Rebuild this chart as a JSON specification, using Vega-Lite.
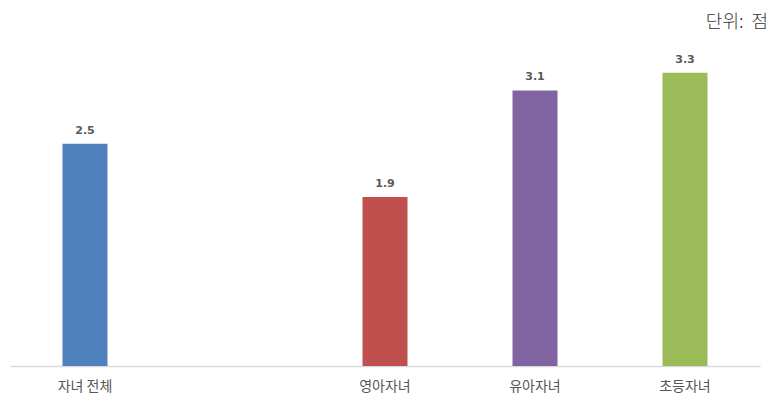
{
  "$schema": "https://vega.github.io/schema/vega-lite/v6.json",
  "width": 750,
  "height": 320,
  "autosize": {"type": "none"},
  "padding": {"left": 10, "top": 46, "right": 12, "bottom": 37},
  "background": "white",
  "title": {
    "text": "단위:\u00a0\u00a0점",
    "anchor": "end",
    "orient": "top",
    "offset": 14,
    "fontSize": 18,
    "fontWeight": 300,
    "font": "Noto Sans CJK KR",
    "color": "#333333",
    "dx": 8
  },
  "data": {
    "values": [
      {"group": "자녀 전체", "value": 2.5},
      {"group": "영아자녀", "value": 1.9},
      {"group": "유아자녀", "value": 3.1},
      {"group": "초등자녀", "value": 3.3}
    ]
  },
  "config": {
    "view": {"stroke": null},
    "font": "Noto Sans CJK KR"
  },
  "encoding": {
    "x": {
      "field": "group",
      "type": "nominal",
      "sort": null,
      "scale": {
        "domain": ["자녀 전체", "_gap_", "영아자녀", "유아자녀", "초등자녀"],
        "paddingInner": 0.7,
        "paddingOuter": 0.35
      },
      "axis": {
        "title": null,
        "labelAngle": 0,
        "labelExpr": "datum.value === '_gap_' ? '' : datum.value",
        "ticks": false,
        "domainColor": "#d9d9d9",
        "domainWidth": 1.5,
        "labelFontSize": 14,
        "labelColor": "#555555",
        "labelPadding": 13,
        "labelFont": "Noto Sans CJK KR"
      }
    },
    "y": {
      "field": "value",
      "type": "quantitative",
      "scale": {"domain": [0, 3.6], "nice": false},
      "axis": null
    }
  },
  "layer": [
    {
      "mark": {"type": "bar"},
      "encoding": {
        "color": {
          "field": "group",
          "type": "nominal",
          "scale": {
            "domain": ["자녀 전체", "영아자녀", "유아자녀", "초등자녀"],
            "range": ["#4F81BD", "#C0504D", "#8064A2", "#9BBB59"]
          },
          "legend": null
        }
      }
    },
    {
      "mark": {
        "type": "text",
        "dy": -13,
        "fontSize": 11,
        "fontWeight": "bold",
        "color": "#595959",
        "font": "DejaVu Sans"
      },
      "encoding": {
        "text": {"field": "value", "type": "quantitative", "format": ".1f"}
      }
    }
  ]
}
